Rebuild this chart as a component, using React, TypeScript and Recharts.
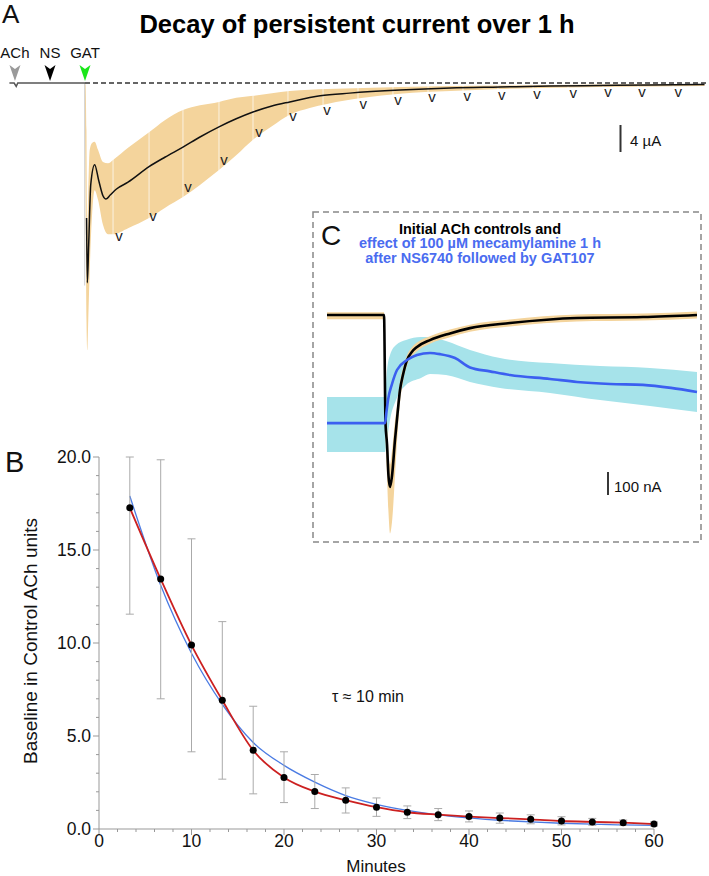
import React from 'react';
import { ComposedChart, Line, Area, XAxis, YAxis, Scatter, ReferenceLine, ErrorBar } from 'recharts';

const FONT = '"Liberation Sans", Arial, Helvetica, sans-serif';

// ---------------- Panel A (time in min after GAT, current in µA) ----------------
const eventNames = ['ACh', 'NS', 'GAT'];
const eventTimes = [-6.67, -3.33, 0];
const eventLevels = [0.3, 0.3, 0.3];
const eventColors: Record<string, string> = { ACh: '#9a9a9a', NS: '#000000', GAT: '#19e619' };

const preT = [-7.2, -6.75, -6.55, -6.4, 0];
const preV = [0, 0, -0.5, 0, 0];

const meanT = [0.15, 0.22, 0.35, 0.55, 0.92, 1.3, 1.71, 2.0, 2.4, 3.0, 4.1, 6.1, 7.6, 9.33, 10.95, 12.76, 14.4, 16, 17.8, 19.5, 22.4, 25.2, 30, 34.8, 39.5, 44.3, 49, 53.8, 59];
const meanV = [-20, -29.6, -24, -15, -12.1, -14.4, -16.7, -17.2, -16.6, -15.7, -14.7, -12.4, -11.0, -9.5, -8.0, -6.5, -5.3, -4.3, -3.4, -2.8, -1.9, -1.5, -1.04, -0.74, -0.59, -0.44, -0.37, -0.3, -0.22];

const bandT = [-0.03, 0.05, 0.14, 0.22, 0.31, 0.45, 0.67, 0.92, 1.24, 1.71, 2.19, 2.67, 4.1, 6.1, 7.6, 9.33, 10.95, 12.76, 14.4, 16, 17.8, 19.5, 21.4, 23.05, 26.5, 30, 34.8, 39.5, 49, 59];
const bandHi = [0, -0.3, -7.0, -21.8, -15.9, -9.9, -8.9, -8.7, -9.9, -11.7, -11.9, -11.4, -9.6, -7.3, -5.5, -4.0, -3.3, -2.8, -2.2, -1.9, -1.5, -1.2, -1.0, -0.9, -0.74, -0.6, -0.44, -0.37, -0.22, -0.15];
const bandLo = [0, -17.3, -35.1, -39.6, -35.1, -27.7, -19.6, -15.9, -17.3, -21.0, -22.4, -22.4, -21.5, -20.0, -18.5, -16.9, -15.1, -12.9, -10.7, -8.4, -6.4, -4.7, -3.7, -3.1, -2.2, -1.6, -1.2, -0.9, -0.6, -0.45];

const markT = [3.24, 6.48, 9.81, 13.24, 16.57, 19.8, 23.05, 26.5, 29.8, 33.05, 36.4, 39.7, 43.05, 46.5, 49.8, 53.05, 56.5];
const markV = [-22.8, -19.85, -15.6, -11.55, -7.4, -5.04, -4.15, -3.26, -2.67, -2.2, -2.07, -1.93, -1.78, -1.6, -1.48, -1.48, -1.48];

const gapT = [2.67, 6.1, 9.33, 12.76, 16.0, 19.33, 22.67, 26.0, 29.33, 32.67, 36.0, 39.33, 42.67, 46.0, 49.33, 52.67, 56.0];

const scaleA = { t: 51.0, top: -6.22, bottom: -10.22 };

// ---------------- Panel B ----------------
const minutes = [3.33, 6.67, 10, 13.33, 16.67, 20, 23.33, 26.67, 30, 33.33, 36.67, 40, 43.33, 46.67, 50, 53.33, 56.67, 60];
const baseline = [17.27, 13.44, 9.89, 6.92, 4.23, 2.77, 2.01, 1.55, 1.17, 0.9, 0.77, 0.67, 0.59, 0.52, 0.43, 0.38, 0.34, 0.27];
const upperBound = [20.0, 19.85, 15.6, 11.15, 6.6, 4.15, 2.93, 2.21, 1.67, 1.24, 1.1, 0.97, 0.86, 0.76, 0.66, 0.57, 0.48, 0.38];
const lowerBound = [11.55, 7.0, 4.15, 2.68, 1.89, 1.42, 1.1, 0.86, 0.68, 0.56, 0.45, 0.38, 0.31, 0.28, 0.22, 0.2, 0.19, 0.16];
const expFit = [17.9, 13.1, 9.45, 6.7, 4.65, 3.42, 2.52, 1.8, 1.33, 1.0, 0.76, 0.6, 0.47, 0.38, 0.31, 0.26, 0.22, 0.19];
const xTicksB = [0, 2, 4, 6, 8, 10, 12, 14, 16, 18, 20, 22, 24, 26, 28, 30, 32, 34, 36, 38, 40, 42, 44, 46, 48, 50, 52, 54, 56, 58, 60];
const yTicksB = [0, 1, 2, 3, 4, 5, 6, 7, 8, 9, 10, 11, 12, 13, 14, 15, 16, 17, 18, 19, 20];

// ---------------- Panel C (time in s, current in nA) ----------------
const ctrlT = [1, 58, 59.5, 61, 62.5, 64, 66, 69, 71.5, 74, 77, 81, 86, 91, 104, 124, 144, 184, 251, 317, 371];
const ctrlV = [0, 0, -470, -560, -700, -748, -700, -543, -430, -326, -260, -196, -160, -139, -109, -80, -57, -35, -13, -9, 0];
const ctrlBandT = [1, 58, 59.5, 61, 62.5, 64, 66, 69, 71.5, 74, 77, 81, 86, 91, 104, 124, 144, 184, 251, 317, 371];
const ctrlBandLo = [-18, -18, -520, -700, -860, -950, -900, -700, -520, -380, -290, -220, -180, -158, -125, -97, -73, -50, -28, -24, -15];
const ctrlBandHi = [12, 12, -420, -470, -600, -650, -590, -460, -380, -290, -230, -175, -140, -120, -92, -63, -42, -20, 2, 6, 15];

const mecT = [1, 59, 60.5, 62, 66, 71, 81, 91, 104, 114, 129, 144, 164, 184, 224, 251, 284, 317, 345, 371];
const mecV = [-470, -470, -420, -370, -300, -239, -196, -174, -165, -170, -187, -228, -245, -261, -278, -291, -300, -304, -317, -335];
const mecBandT = [1, 59, 61, 64, 70, 80, 95, 104, 120, 144, 174, 224, 274, 324, 371];
const mecBandLo = [-596, -596, -543, -456, -370, -304, -274, -257, -261, -291, -317, -339, -370, -396, -422];
const mecBandHi = [-357, -357, -239, -174, -130, -109, -96, -96, -113, -152, -187, -209, -222, -230, -248];

const scaleC = { t: 282, top: -683, bottom: -783 };

// ---------------- tables ----------------
const preData = preT.map((t, i) => ({ t, v: preV[i] }));
const meanData = meanT.map((t, i) => ({ t, v: meanV[i] }));
const bandData = bandT.map((t, i) => ({ t, band: [bandLo[i], bandHi[i]] }));
const markData = markT.map((t, i) => ({ t, v: markV[i] }));
const eventData = eventNames.map((name, i) => ({ t: eventTimes[i], v: eventLevels[i], name }));

const bData = minutes.map((t, i) => ({
  t,
  mean: baseline[i],
  fit: expFit[i],
  err: [baseline[i] - lowerBound[i], upperBound[i] - baseline[i]],
}));

const ctrlData = ctrlT.map((t, i) => ({ t, v: ctrlV[i] }));
const ctrlBand = ctrlBandT.map((t, i) => ({ t, band: [ctrlBandLo[i], ctrlBandHi[i]] }));
const mecData = mecT.map((t, i) => ({ t, v: mecV[i] }));
const mecBand = mecBandT.map((t, i) => ({ t, band: [mecBandLo[i], mecBandHi[i]] }));

// ---------------- shapes ----------------
const VMark = (props: any) => {
  const { cx, cy } = props;
  return (
    <text x={cx} y={cy + 4} textAnchor="middle" fontSize={15} fontFamily={FONT} fill="#222">v</text>
  );
};

const EventMark = (props: any) => {
  const { cx, cy, payload } = props;
  const color = eventColors[payload.name];
  return (
    <g>
      <polygon
        points={`${cx - 5.5},${cy - 16} ${cx},${cy - 12} ${cx + 5.5},${cy - 16} ${cx},${cy}`}
        fill={color}
      />
      <text x={cx} y={cy - 23} textAnchor="middle" fontSize={15} fontFamily={FONT} fill="#111">
        {payload.name}
      </text>
    </g>
  );
};

const XTickB = (props: any) => {
  const { x, y, payload } = props;
  const v = payload.value;
  const major = v % 10 === 0;
  return (
    <g>
      <line x1={x} x2={x} y1={y} y2={y + (major ? 6 : 3)} stroke="#999" />
      {major && (
        <text x={x} y={y + 18} textAnchor="middle" fontSize={17.5} fontFamily={FONT} fill="#111">
          {v}
        </text>
      )}
    </g>
  );
};

const YTickB = (props: any) => {
  const { x, y, payload } = props;
  const v = payload.value;
  const major = v % 5 === 0;
  return (
    <g>
      <line x1={x - (major ? 6 : 3)} x2={x} y1={y} y2={y} stroke="#999" />
      {major && (
        <text x={x - 8} y={y + 6} textAnchor="end" fontSize={17.5} fontFamily={FONT} fill="#111">
          {v.toFixed(1)}
        </text>
      )}
    </g>
  );
};

const abs: React.CSSProperties = { position: 'absolute', left: 0, top: 0 };

export default function App() {
  return (
    <div style={{ position: 'absolute', left: 0, top: 0, width: 709, height: 876, background: '#fff', fontFamily: FONT }}>
      {/* Panel A */}
      <div style={abs}>
        <ComposedChart width={709} height={876} margin={{ left: 9.4, right: 2.4, top: 56, bottom: 523 }}>
          <XAxis type="number" dataKey="t" domain={[-7.2, 59.2]} hide />
          <YAxis type="number" dataKey="v" domain={[-40, 4]} hide />
          <ReferenceLine segment={[{ x: -0.03, y: 0 }, { x: -0.03, y: -30 }]} stroke="#cfcfcf" strokeWidth={1} />
          <Area data={bandData} dataKey="band" type="monotone" stroke="none" fill="#f4d49c" fillOpacity={1} isAnimationActive={false} />
          {gapT.map((t) => (
            <ReferenceLine key={t} segment={[{ x: t, y: -0.3 }, { x: t, y: -40 }]} stroke="#ffffff" strokeOpacity={0.7} strokeWidth={1} />
          ))}
          <ReferenceLine segment={[{ x: 0, y: 0 }, { x: 59.2, y: 0 }]} stroke="#333" strokeWidth={1.5} strokeDasharray="5 3" />
          <Line data={preData} dataKey="v" type="linear" stroke="#555" strokeWidth={1.5} dot={false} isAnimationActive={false} />
          <Line data={meanData} dataKey="v" type="monotone" stroke="#111" strokeWidth={1.5} dot={false} isAnimationActive={false} />
          <Scatter data={markData} dataKey="v" shape={VMark} isAnimationActive={false} />
          <Scatter data={eventData} dataKey="v" shape={EventMark} isAnimationActive={false} />
          <ReferenceLine segment={[{ x: scaleA.t, y: scaleA.top }, { x: scaleA.t, y: scaleA.bottom }]} stroke="#333" strokeWidth={2} />
        </ComposedChart>
      </div>

      {/* Panel B */}
      <div style={abs}>
        <ComposedChart width={709} height={876} data={bData} margin={{ left: 39, right: 55, top: 457, bottom: 7 }}>
          <XAxis
            type="number"
            dataKey="t"
            domain={[0, 60]}
            ticks={xTicksB}
            interval={0}
            height={40}
            tickSize={0}
            tickMargin={0}
            tickLine={false}
            tick={<XTickB />}
            axisLine={{ stroke: '#999' }}
          />
          <YAxis
            type="number"
            domain={[0, 20]}
            ticks={yTicksB}
            interval={0}
            width={60}
            tickSize={0}
            tickMargin={0}
            tickLine={false}
            tick={<YTickB />}
            axisLine={{ stroke: '#999' }}
          />
          <Line dataKey="fit" type="monotone" stroke="#4a7be3" strokeWidth={1.3} dot={false} isAnimationActive={false} />
          <Line
            dataKey="mean"
            type="monotone"
            stroke="#cc2020"
            strokeWidth={1.8}
            dot={{ r: 3.5, fill: '#000', stroke: '#000', strokeWidth: 0 }}
            isAnimationActive={false}
          >
            <ErrorBar dataKey="err" width={4} stroke="#aaa" strokeWidth={1} direction="y" />
          </Line>
        </ComposedChart>
      </div>

      {/* Panel C */}
      <div style={abs}>
        <ComposedChart width={709} height={876} margin={{ left: 326, right: 11, top: 292, bottom: 331 }}>
          <XAxis type="number" dataKey="t" domain={[0, 372]} hide />
          <YAxis type="number" dataKey="v" domain={[-1000, 100]} hide />
          <Area data={mecBand} dataKey="band" type="monotone" stroke="none" fill="#a6e3ea" fillOpacity={1} isAnimationActive={false} />
          <Area data={ctrlBand} dataKey="band" type="monotone" stroke="none" fill="#f4d49c" fillOpacity={1} isAnimationActive={false} />
          <Line data={ctrlData} dataKey="v" type="monotone" stroke="#000" strokeWidth={2.6} dot={false} isAnimationActive={false} />
          <Line data={mecData} dataKey="v" type="monotone" stroke="#3b5ff0" strokeWidth={2.6} dot={false} isAnimationActive={false} />
          <ReferenceLine segment={[{ x: scaleC.t, y: scaleC.top }, { x: scaleC.t, y: scaleC.bottom }]} stroke="#222" strokeWidth={1.8} />
        </ComposedChart>
      </div>

      {/* Text and frame */}
      <svg width={709} height={876} style={abs}>
        <rect x={313} y={212} width={388} height={330} fill="none" stroke="#888" strokeWidth={1.5} strokeDasharray="6 4" />
        <text x={2} y={23} fontSize={26} fill="#111" fontFamily={FONT}>A</text>
        <text x={357} y={33} fontSize={25.5} fontWeight="bold" textAnchor="middle" fill="#000" fontFamily={FONT}>
          Decay of persistent current over 1 h
        </text>
        <text x={630} y={146} fontSize={15} fill="#111" fontFamily={FONT}>4 µA</text>
        <text x={5} y={472} fontSize={29} fill="#111" fontFamily={FONT}>B</text>
        <text x={321} y={245} fontSize={28} fill="#111" fontFamily={FONT}>C</text>
        <text x={480} y={233.5} fontSize={14.5} fontWeight="bold" textAnchor="middle" fill="#000" fontFamily={FONT}>
          Initial ACh controls and
        </text>
        <text x={480} y={248} fontSize={14.5} fontWeight="bold" textAnchor="middle" fill="#4a6cf0" fontFamily={FONT}>
          effect of 100 µM mecamylamine 1 h
        </text>
        <text x={480} y={262.5} fontSize={14.5} fontWeight="bold" textAnchor="middle" fill="#4a6cf0" fontFamily={FONT}>
          after NS6740 followed by GAT107
        </text>
        <text x={614} y={492} fontSize={15} fill="#111" fontFamily={FONT}>100 nA</text>
        <text x={332} y={702} fontSize={16} fill="#111" fontFamily={FONT}>τ ≈ 10 min</text>
        <text x={376} y={872} fontSize={17} textAnchor="middle" fill="#111" fontFamily={FONT}>Minutes</text>
        <text
          x={37}
          y={641}
          fontSize={19}
          textAnchor="middle"
          fill="#111"
          fontFamily={FONT}
          transform="rotate(-90 37 641)"
        >
          Baseline in Control ACh units
        </text>
      </svg>
    </div>
  );
}
